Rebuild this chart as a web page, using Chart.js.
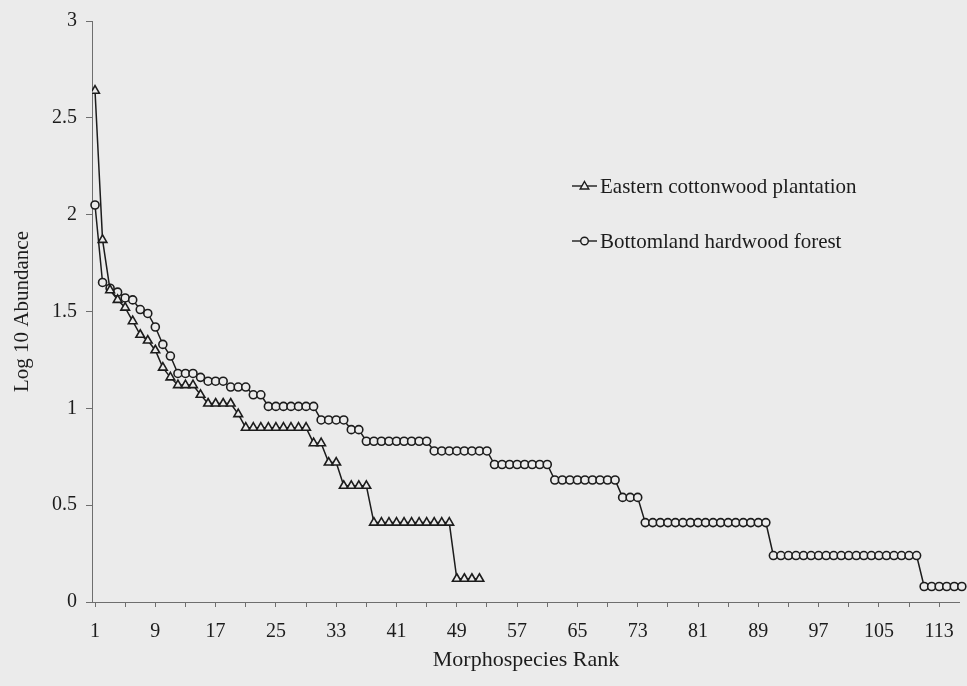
<!DOCTYPE html>
<html lang="en">
<head>
    <meta charset="UTF-8">
    <title>Morphospecies Rank Abundance</title>
    <script src="https://cdn.jsdelivr.net/npm/chart.js"></script>
    <style>
        body { margin: 0; background: #ebebeb; }
        #wrap { width: 967px; height: 686px; position: relative; }
    </style>
</head>
<body>
    <div id="wrap"><canvas id="mainChart"></canvas></div>

    <script>
        // Log10 abundance by morphospecies rank (rank = position in list, starting at 1)
        const cottonwood = [
            2.64, 1.87, 1.61, 1.56, 1.52, 1.45, 1.38, 1.35, 1.30, 1.21,
            1.16, 1.12, 1.12, 1.12, 1.07, 1.025, 1.025, 1.025, 1.025, 0.97,
            0.90, 0.90, 0.90, 0.90, 0.90, 0.90, 0.90, 0.90, 0.90, 0.82,
            0.82, 0.72, 0.72, 0.60, 0.60, 0.60, 0.60, 0.41, 0.41, 0.41,
            0.41, 0.41, 0.41, 0.41, 0.41, 0.41, 0.41, 0.41, 0.12, 0.12,
            0.12, 0.12
        ];
        const bottomland = [
            2.05, 1.65, 1.62, 1.60, 1.57, 1.56, 1.51, 1.49, 1.42, 1.33,
            1.27, 1.18, 1.18, 1.18, 1.16, 1.14, 1.14, 1.14, 1.11, 1.11,
            1.11, 1.07, 1.07, 1.01, 1.01, 1.01, 1.01, 1.01, 1.01, 1.01,
            0.94, 0.94, 0.94, 0.94, 0.89, 0.89, 0.83, 0.83, 0.83, 0.83,
            0.83, 0.83, 0.83, 0.83, 0.83, 0.78, 0.78, 0.78, 0.78, 0.78,
            0.78, 0.78, 0.78, 0.71, 0.71, 0.71, 0.71, 0.71, 0.71, 0.71,
            0.71, 0.63, 0.63, 0.63, 0.63, 0.63, 0.63, 0.63, 0.63, 0.63,
            0.54, 0.54, 0.54, 0.41, 0.41, 0.41, 0.41, 0.41, 0.41, 0.41,
            0.41, 0.41, 0.41, 0.41, 0.41, 0.41, 0.41, 0.41, 0.41, 0.41,
            0.24, 0.24, 0.24, 0.24, 0.24, 0.24, 0.24, 0.24, 0.24, 0.24,
            0.24, 0.24, 0.24, 0.24, 0.24, 0.24, 0.24, 0.24, 0.24, 0.24,
            0.08, 0.08, 0.08, 0.08, 0.08, 0.08
        ];
        const seriesNames = ['Eastern cottonwood plantation', 'Bottomland hardwood forest'];
        const xTickValues = [1, 5, 9, 13, 17, 21, 25, 29, 33, 37, 41, 45, 49, 53, 57, 61,
            65, 69, 73, 77, 81, 85, 89, 93, 97, 101, 105, 109, 113];
        const xTickLabels = [1, 9, 17, 25, 33, 41, 49, 57, 65, 73, 81, 89, 97, 105, 113];
        const yTickLabels = ['0', '0.5', '1', '1.5', '2', '2.5', '3'];

        const bg = '#ebebeb';
        const ink = '#1c1c1c';
        const axisColor = '#6e6e6e';
        const serif = "'Liberation Serif', 'DejaVu Serif', serif";

        function toPoints(values) {
            return values.map((v, i) => ({ x: i + 1, y: v }));
        }

        // legend drawn inside the plot, like the original figure
        const insideLegend = {
            id: 'insideLegend',
            afterDraw(chart) {
                const ctx = chart.ctx;
                const rows = [186, 241];
                chart.data.datasets.forEach((ds, i) => {
                    const y = rows[i];
                    ctx.save();
                    ctx.strokeStyle = ink;
                    ctx.lineWidth = 1.4;
                    ctx.beginPath();
                    ctx.moveTo(572, y);
                    ctx.lineTo(597, y);
                    ctx.stroke();
                    ctx.fillStyle = bg;
                    ctx.beginPath();
                    if (ds.pointStyle === 'triangle') {
                        ctx.moveTo(584.5, y - 4.5);
                        ctx.lineTo(588.8, y + 3);
                        ctx.lineTo(580.2, y + 3);
                        ctx.closePath();
                    } else {
                        ctx.arc(584.5, y, 3.8, 0, Math.PI * 2);
                    }
                    ctx.fill();
                    ctx.stroke();
                    ctx.fillStyle = ink;
                    ctx.font = '21px ' + serif;
                    ctx.textBaseline = 'middle';
                    ctx.fillText(ds.label, 600, y + 1);
                    ctx.restore();
                });
            }
        };

        const ctx = document.getElementById('mainChart').getContext('2d');
        const chart = new Chart(ctx, {
            type: 'line',
            data: {
                datasets: [{
                    label: seriesNames[0],
                    data: toPoints(cottonwood),
                    borderColor: ink,
                    borderWidth: 1.5,
                    pointStyle: 'triangle',
                    pointRadius: 5,
                    pointBorderWidth: 1.6,
                    pointBackgroundColor: bg,
                    pointBorderColor: ink,
                    tension: 0
                }, {
                    label: seriesNames[1],
                    data: toPoints(bottomland),
                    borderColor: ink,
                    borderWidth: 1.5,
                    pointStyle: 'circle',
                    pointRadius: 4,
                    pointBorderWidth: 1.6,
                    pointBackgroundColor: bg,
                    pointBorderColor: ink,
                    tension: 0,
                    clip: false
                }]
            },
            options: {
                responsive: true,
                maintainAspectRatio: false,
                animation: false,
                layout: { padding: { top: 20, right: 0, left: 0, bottom: 0 } },
                plugins: {
                    legend: { display: false },
                    tooltip: { enabled: false }
                },
                scales: {
                    x: {
                        type: 'linear',
                        min: 0.6,
                        max: 115.75,
                        afterBuildTicks: scale => {
                            scale.ticks = xTickValues.map(v => ({ value: v }));
                        },
                        afterFit: scale => { scale.height = 84; },
                        grid: { drawOnChartArea: false, drawTicks: true, tickLength: 5, color: axisColor },
                        border: { color: axisColor, width: 1 },
                        ticks: {
                            autoSkip: false,
                            maxRotation: 0,
                            padding: 13,
                            color: ink,
                            font: { family: serif, size: 20 },
                            callback: v => xTickLabels.includes(v) ? String(v) : ''
                        },
                        title: {
                            display: true,
                            text: 'Morphospecies Rank',
                            color: ink,
                            font: { family: serif, size: 22 },
                            padding: { top: 0, bottom: 13 }
                        }
                    },
                    y: {
                        min: 0,
                        max: 3,
                        afterFit: scale => { scale.width = 92; },
                        grid: { drawOnChartArea: false, drawTicks: true, tickLength: 6, color: axisColor },
                        border: { color: axisColor, width: 1 },
                        ticks: {
                            stepSize: 0.5,
                            padding: 9,
                            color: ink,
                            font: { family: serif, size: 20 },
                            callback: (v, i) => yTickLabels[i]
                        },
                        title: {
                            display: true,
                            text: 'Log 10 Abundance',
                            color: ink,
                            font: { family: serif, size: 21 },
                            padding: { top: 10, bottom: 0 }
                        }
                    }
                }
            },
            plugins: [insideLegend]
        });
    </script>
</body>
</html>
